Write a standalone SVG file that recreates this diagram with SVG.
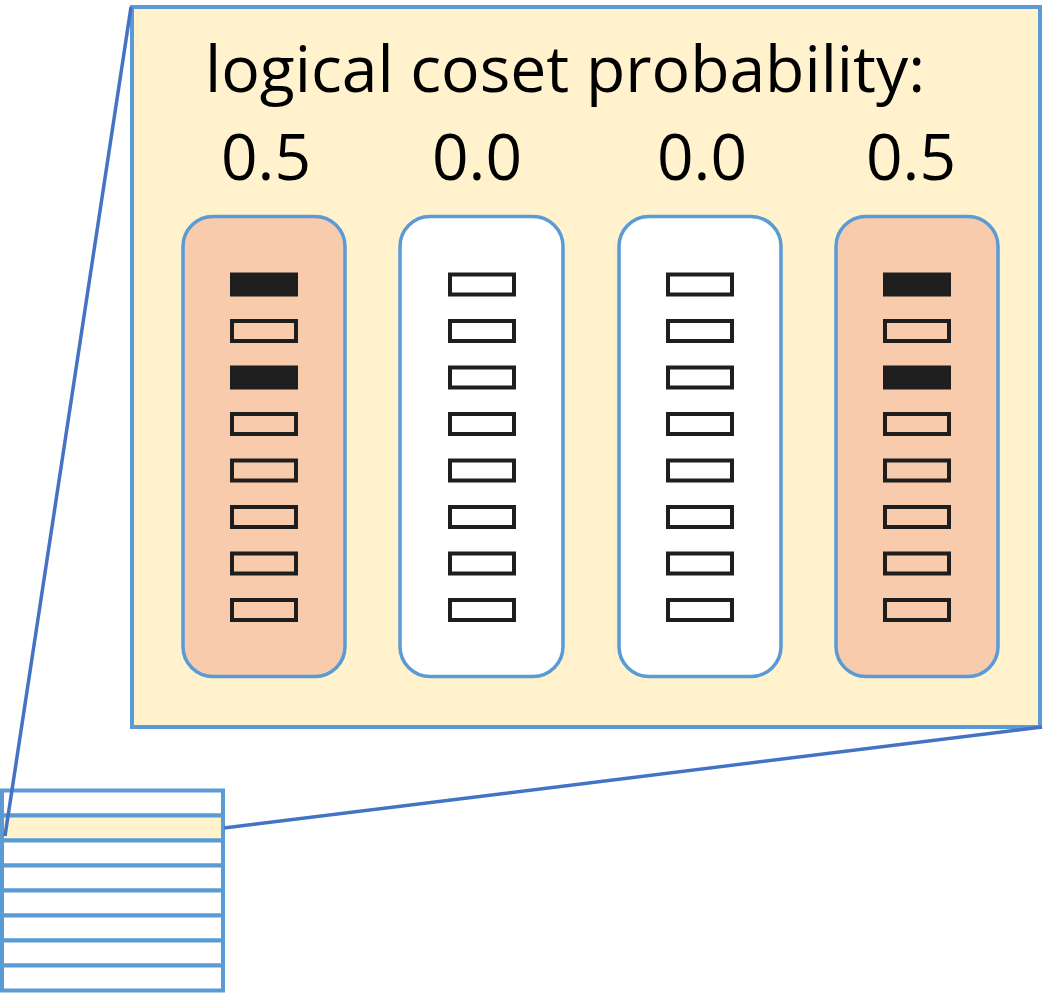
<svg xmlns="http://www.w3.org/2000/svg" width="1045" height="994" viewBox="0 0 1045 994">
<defs>
<style>
.frame{fill:#FFF2CC;stroke:#5B9BD5;stroke-width:4}
.col{stroke:#5B9BD5;stroke-width:3.5}
.col.on{fill:#F8CBAD}
.col.off{fill:#FFFFFF}
.cell{fill:none;stroke:#1E1E1E;stroke-width:4}
.cell.set{fill:#1E1E1E}
.conn{stroke:#4472C4;stroke-width:3.5;fill:none}
.row{fill:#FFFFFF;stroke:#5B9BD5;stroke-width:4}
.row.hi{fill:#FFF2CC}
.t{font-family:"Open Sans","Noto Sans",sans-serif;font-size:64px;fill:#000}
</style>
</defs>
<rect width="1045" height="994" fill="#FFFFFF"/>
<g id="table">
<rect class="row" x="2" y="790.5" width="221" height="25"/>
<rect class="row hi" x="2" y="815.5" width="221" height="25"/>
<rect class="row" x="2" y="840.5" width="221" height="25"/>
<rect class="row" x="2" y="865.5" width="221" height="25"/>
<rect class="row" x="2" y="890.5" width="221" height="25"/>
<rect class="row" x="2" y="915.5" width="221" height="25"/>
<rect class="row" x="2" y="940.5" width="221" height="25"/>
<rect class="row" x="2" y="965.5" width="221" height="25"/>
</g>
<g id="zoom-panel">
<rect class="frame" x="132" y="7" width="908" height="720"/>
<text class="t" x="205" y="92" textLength="720" lengthAdjust="spacingAndGlyphs">logical coset probability:</text>
</g>
<g id="coset1">
<text class="t" x="266" y="180" text-anchor="middle">0.5</text>
<rect class="col on" x="183" y="216.5" width="162" height="460" rx="30"/>
<rect class="cell set" x="232" y="274.5" width="64" height="20"/>
<rect class="cell" x="232" y="321" width="64" height="20"/>
<rect class="cell set" x="232" y="367.5" width="64" height="20"/>
<rect class="cell" x="232" y="414" width="64" height="20"/>
<rect class="cell" x="232" y="460.5" width="64" height="20"/>
<rect class="cell" x="232" y="507" width="64" height="20"/>
<rect class="cell" x="232" y="553.5" width="64" height="20"/>
<rect class="cell" x="232" y="600" width="64" height="20"/>
</g>
<g id="coset2">
<text class="t" x="477" y="180" text-anchor="middle">0.0</text>
<rect class="col off" x="400" y="216.5" width="163" height="460" rx="30"/>
<rect class="cell" x="450" y="274.5" width="64" height="20"/>
<rect class="cell" x="450" y="321" width="64" height="20"/>
<rect class="cell" x="450" y="367.5" width="64" height="20"/>
<rect class="cell" x="450" y="414" width="64" height="20"/>
<rect class="cell" x="450" y="460.5" width="64" height="20"/>
<rect class="cell" x="450" y="507" width="64" height="20"/>
<rect class="cell" x="450" y="553.5" width="64" height="20"/>
<rect class="cell" x="450" y="600" width="64" height="20"/>
</g>
<g id="coset3">
<text class="t" x="702" y="180" text-anchor="middle">0.0</text>
<rect class="col off" x="619" y="216.5" width="162" height="460" rx="30"/>
<rect class="cell" x="668" y="274.5" width="64" height="20"/>
<rect class="cell" x="668" y="321" width="64" height="20"/>
<rect class="cell" x="668" y="367.5" width="64" height="20"/>
<rect class="cell" x="668" y="414" width="64" height="20"/>
<rect class="cell" x="668" y="460.5" width="64" height="20"/>
<rect class="cell" x="668" y="507" width="64" height="20"/>
<rect class="cell" x="668" y="553.5" width="64" height="20"/>
<rect class="cell" x="668" y="600" width="64" height="20"/>
</g>
<g id="coset4">
<text class="t" x="911" y="180" text-anchor="middle">0.5</text>
<rect class="col on" x="836" y="216.5" width="162" height="460" rx="30"/>
<rect class="cell set" x="885" y="274.5" width="64" height="20"/>
<rect class="cell" x="885" y="321" width="64" height="20"/>
<rect class="cell set" x="885" y="367.5" width="64" height="20"/>
<rect class="cell" x="885" y="414" width="64" height="20"/>
<rect class="cell" x="885" y="460.5" width="64" height="20"/>
<rect class="cell" x="885" y="507" width="64" height="20"/>
<rect class="cell" x="885" y="553.5" width="64" height="20"/>
<rect class="cell" x="885" y="600" width="64" height="20"/>
</g>
<g id="connectors">
<line class="conn" x1="131" y1="7" x2="5" y2="836"/>
<line class="conn" x1="1042" y1="727" x2="224" y2="828"/>
</g>
</svg>
